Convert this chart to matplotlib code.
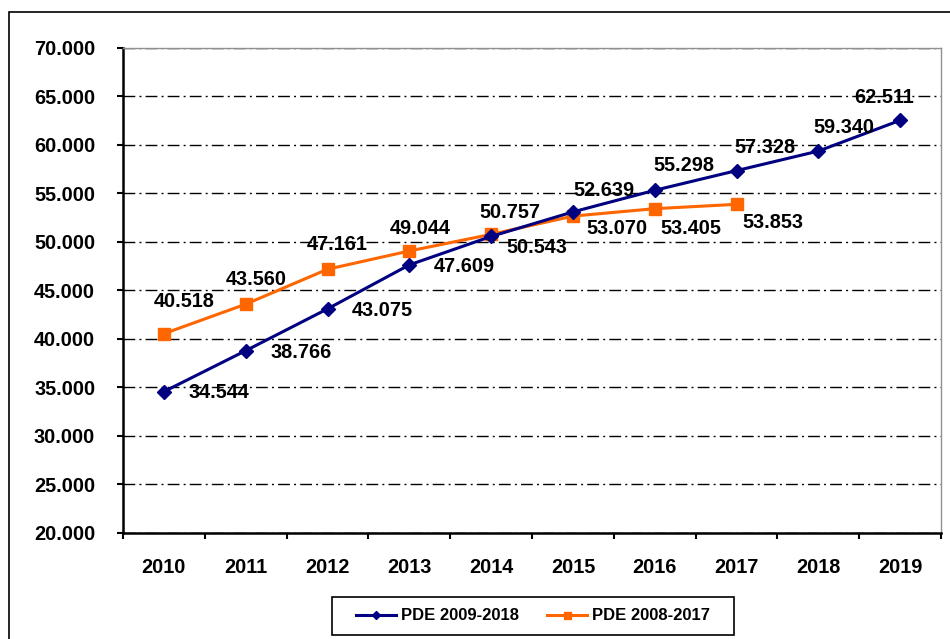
import numpy as np
import matplotlib
matplotlib.use("Agg")
import matplotlib.pyplot as plt
from matplotlib.patches import Rectangle

plt.rcParams['font.family'] = ['Liberation Sans', 'DejaVu Sans']
plt.rcParams['font.weight'] = 'bold'

# data
years = ['2010', '2011', '2012', '2013', '2014', '2015', '2016', '2017', '2018', '2019']
pde_2009 = [34.544, 38.766, 43.075, 47.609, 50.543, 53.070, 55.298, 57.328, 59.340, 62.511]
pde_2008 = [40.518, 43.560, 47.161, 49.044, 50.757, 52.639, 53.405, 53.853]
label_2009 = 'PDE 2009-2018'
label_2008 = 'PDE 2008-2017'

# label offsets (pixels, dx right / dy down), as placed in the original
off_2009 = [(55, 1), (55, 2), (55, 1.5), (55, 2), (45.5, 11), (43.7, 16.7),
            (29, -25), (28.6, -23.6), (26, -24), (-15.5, -23.2)]
off_2008 = [(20.5, -32), (11, -24.6), (9.7, -25), (10.4, -22.4), (19, -21.7),
            (31.4, -25.8), (36.6, 20), (36.4, 17.7)]

navy = '#000080'
orange = '#FF6600'
fs = 14.3

fig = plt.figure(figsize=(9.5, 6.39), dpi=100)
ax = fig.add_axes([123/950, 1 - 532.7/639, (941 - 123)/950, (532.7 - 47.7)/639])

x = np.arange(len(years))
ax.plot(x, pde_2009, color=navy, lw=2.2, marker='D', ms=6.8, mfc=navy, mec=navy,
        label=label_2009, zorder=4)
ax.plot(x[:len(pde_2008)], pde_2008, color=orange, lw=2.2, marker='s', ms=8.4,
        mfc=orange, mec=orange, label=label_2008, zorder=3)

px = 72 / 100
for xi, v, (dx, dy) in zip(x, pde_2009, off_2009):
    ax.annotate(f'{v:.3f}', (xi, v), xytext=(dx * px, -dy * px), textcoords='offset points',
                ha='center', va='center', fontsize=fs, fontweight='bold', zorder=6)
for xi, v, (dx, dy) in zip(x, pde_2008, off_2008):
    ax.annotate(f'{v:.3f}', (xi, v), xytext=(dx * px, -dy * px), textcoords='offset points',
                ha='center', va='center', fontsize=fs, fontweight='bold', zorder=6)

ax.set_xlim(-0.5, len(years) - 0.5)
ax.set_ylim(20, 70)
ax.set_yticks(np.arange(20, 71, 5))
ax.set_yticklabels([f'{t:.3f}' for t in np.arange(20, 71, 5)])
ax.set_xticks(np.arange(-0.5, len(years), 1.0))
ax.set_xticklabels([])
ax.set_xticks(x, minor=True)
ax.set_xticklabels(years, minor=True)
ax.tick_params(axis='x', which='major', direction='out', length=4.5, width=1.5, color='black')
ax.tick_params(axis='x', which='minor', length=0, pad=18.5, labelsize=fs)
ax.tick_params(axis='y', direction='out', length=4.5, width=1.5, pad=15.5, labelsize=fs)

ax.yaxis.grid(True, color='black', lw=1.0, linestyle=(0, (8.5, 3, 1.4, 3)))
ax.set_axisbelow(True)

for s in ['left', 'bottom']:
    ax.spines[s].set_color('black')
    ax.spines[s].set_linewidth(1.8)
for s in ['top', 'right']:
    ax.spines[s].set_color('#909090')
    ax.spines[s].set_linewidth(1.0)

# outer frame
fig.patches.append(Rectangle((9/950, -0.05), 1.0, 1 - 12/639 + 0.05, transform=fig.transFigure,
                             fill=False, edgecolor='black', lw=1.2))
# legend box
fig.patches.append(Rectangle((332/950, 1 - 635/639), (734 - 332)/950, (635 - 597)/639,
                             transform=fig.transFigure, fill=False, edgecolor='black', lw=1.2))
fig.legend(loc='center', bbox_to_anchor=(533/950, 1 - 616/639), ncol=2, frameon=False,
           fontsize=12, handlelength=2.4, handletextpad=0.3, columnspacing=1.7, markerscale=0.6)

fig.savefig('out.png', dpi=100)
